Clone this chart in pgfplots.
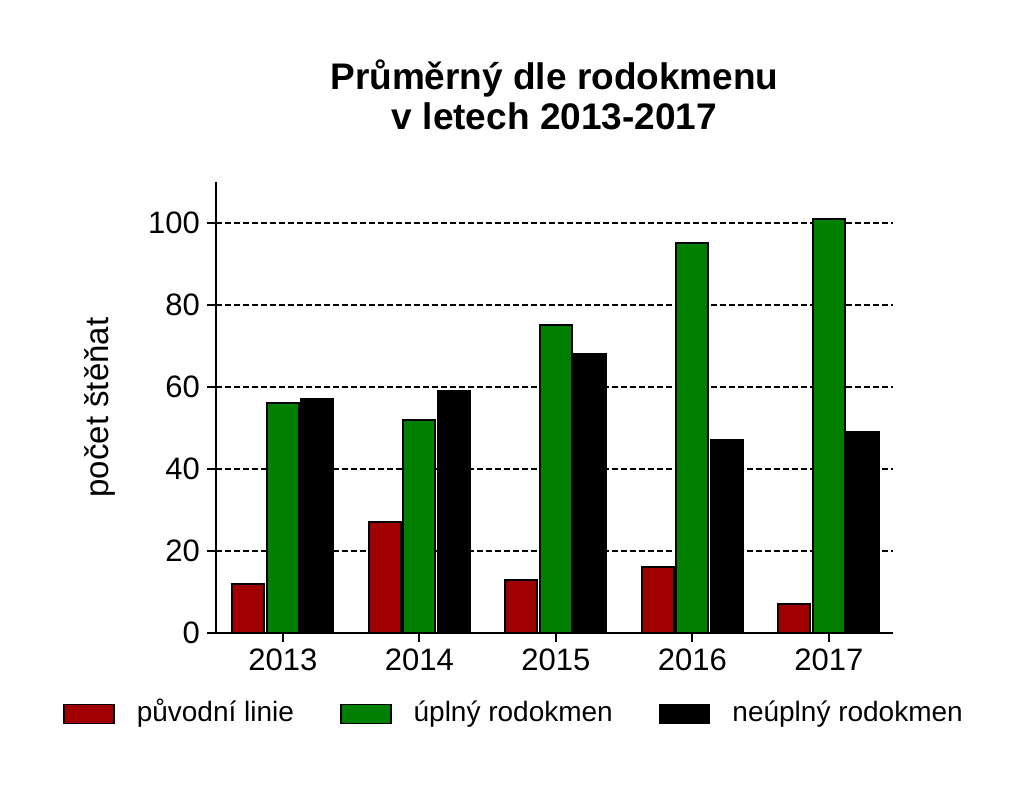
\documentclass[border=0pt]{standalone}
\usepackage{fontspec}
\setmainfont{Liberation Sans}
\usepackage{pgfplots}
\pgfplotsset{compat=1.18}
\definecolor{linered}{RGB}{160,0,0}
\definecolor{fullgreen}{RGB}{0,128,0}

\begin{document}
\begin{tikzpicture}
\begin{axis}[
    scale only axis,
    width=338.5pt, height=225.5pt,
    ybar=1.25pt, bar width=16pt,
    xmin=-0.49, xmax=4.47,
    ymin=0, ymax=110,
    enlargelimits=false,
    clip=false,
    axis x line=bottom, axis y line=left,
    axis line style={-, line width=1pt},
    tick align=outside,
    major tick length=4.5pt,
    tick style={line width=1pt, black},
    xtick={0,1,2,3,4},
    xticklabels={2013,2014,2015,2016,2017},
    ytick={0,20,40,60,80,100},
    ymajorgrids,
    grid style={black, line width=0.6pt, dash pattern=on 3pt off 1.5pt},
    /pgf/number format/assume math mode=true,
    ticklabel style={font=\fontsize{15.5}{17}\selectfont},
    ylabel={počet štěňat},
    ylabel style={font=\fontsize{16.5}{18}\selectfont, at={(axis description cs:-0.171,0.5)}, anchor=center},
    title={Průměrný dle rodokmenu\\v letech 2013-2017},
    title style={font=\fontsize{18.5}{20}\selectfont\bfseries, align=center, inner sep=0pt,
                 at={(axis description cs:0.5,1.087)}, anchor=south},
    legend columns=3,
    legend style={draw=none, at={(axis description cs:0.4417,-0.18)}, anchor=center,
                  font=\fontsize{14}{16}\selectfont,
                  nodes={text height=10.5pt, text depth=3pt},
                  /tikz/every even column/.append style={column sep=21pt}},
    legend image code/.code={\draw[#1, line width=0.8pt] (0pt,-4.75pt) rectangle (25pt,4.75pt);},
    legend cell align=left,
]
\addplot[fill=linered, draw=black, line width=1pt] coordinates {(0,12) (1,27) (2,13) (3,16) (4,7)};
\addlegendentry{\hspace{9pt}původní linie}
\addplot[fill=fullgreen, draw=black, line width=1pt] coordinates {(0,56) (1,52) (2,75) (3,95) (4,101)};
\addlegendentry{\hspace{9pt}úplný rodokmen}
\addplot[fill=black, draw=black, line width=1pt] coordinates {(0,57) (1,59) (2,68) (3,47) (4,49)};
\addlegendentry{\hspace{9pt}neúplný rodokmen}
\path (rel axis cs:-0.319,-0.339) rectangle (rel axis cs:1.1935,1.4035);
\end{axis}
\end{tikzpicture}
\end{document}
